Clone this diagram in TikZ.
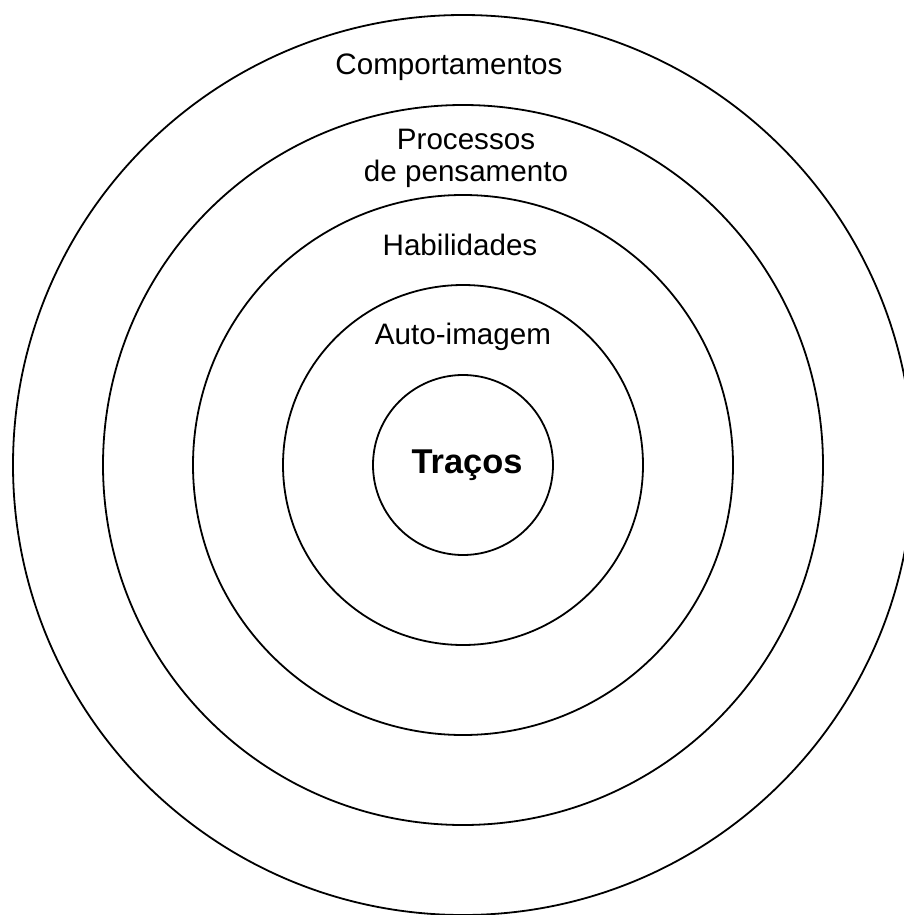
\documentclass[tikz,border=0pt]{standalone}
\usepackage{fontspec}
\setmainfont{Liberation Sans}
\usepackage{tikz}

\begin{document}
\begin{tikzpicture}[x=0.5pt,y=-0.5pt,
  ringtext/.style={font=\fontsize{14.8}{16}\selectfont, align=center}]
\clip (0,0) rectangle (904,915);
\path [fill=white] (0,0) rectangle (904,915);
\coordinate (c) at (463,465);
\draw [line width=0.9pt] (c) circle [radius=225pt];
\draw [line width=0.9pt] (c) circle [radius=180pt];
\draw [line width=0.9pt] (c) circle [radius=135pt];
\draw [line width=0.9pt] (c) circle [radius=90pt];
\draw [line width=0.9pt] (c) circle [radius=45pt];

\node (comp) [ringtext] at (449,67) {Comportamentos};
\node (proc) [ringtext] at (466,158) {Processos\\de pensamento};
\node (hab) [ringtext] at (460,245) {Habilidades};
\node (auto) [ringtext] at (463,337) {Auto-imagem};
\node (trac) [font=\fontsize{17.2}{18}\selectfont\bfseries] at (467,465) {Traços};
\end{tikzpicture}
\end{document}
